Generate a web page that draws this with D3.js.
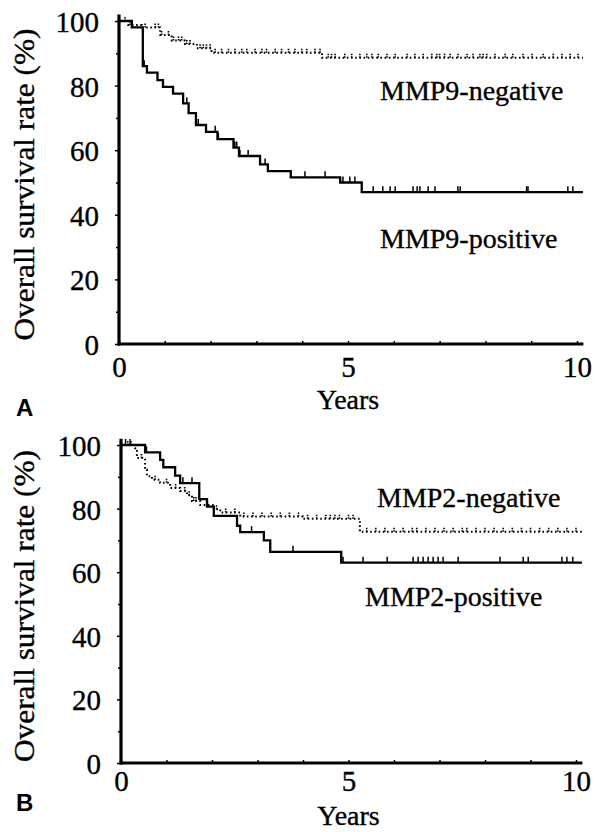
<!DOCTYPE html>
<html>
<head>
<meta charset="utf-8">
<script src="https://cdn.jsdelivr.net/npm/d3@7"></script>
<style>
  body { margin: 0; background: #fff; }
  svg { display: block; }
  text { font-family: "Liberation Serif", "Times New Roman", serif; fill: #000; stroke: #000; stroke-width: 0.35px; }
  text.panel-letter { font-family: "Liberation Sans", Arial, sans-serif; font-weight: bold; stroke-width: 0; }
</style>
</head>
<body>
<svg id="chart" width="595" height="832"></svg>
<script>
// survival curves, [years, survival %]
const mmp9Neg = [[0, 100], [0.2, 98.8], [0.5, 98], [0.9, 95.7], [1.15, 94], [1.44, 92.9], [1.7, 91.6], [2.02, 90.2], [4.43, 88.6], [10.13, 88.6]]
const mmp9Pos = [[0, 100], [0.28, 98], [0.52, 86], [0.61, 84], [0.84, 81.7], [0.96, 79.6], [1.18, 77.5], [1.4, 74.5],
  [1.52, 71.5], [1.68, 67.8], [1.9, 65.7], [2.15, 63.4], [2.5, 60.8], [2.62, 58.2], [3.08, 55.6], [3.25, 53.5],
  [3.75, 51.6], [4.83, 50], [5.3, 47], [10.13, 47]]
const mmp2Neg = [[0, 100], [0.31, 99], [0.35, 95.9], [0.53, 92.2], [0.57, 90.2], [0.68, 89.1], [0.86, 88.1], [1.08, 86.5],
  [1.3, 85.5], [1.45, 84.2], [1.56, 82.4], [1.74, 81.1], [2.04, 79.8], [2.18, 78.8], [2.62, 77.5], [4.0, 76.8],
  [5.25, 72.7], [10.13, 72.7]]
const mmp2Pos = [[0, 100], [0.53, 97.7], [0.86, 95.3], [0.93, 93], [1.19, 90.4], [1.3, 88], [1.72, 83], [1.89, 80.6],
  [2.04, 77.7], [2.55, 74.6], [2.62, 72.6], [3.14, 70], [3.28, 66.4], [4.84, 63], [10.13, 63]]

// censored observations (years)
const mmp9NegCens = [0.13, 0.24, 0.57, 0.79, 0.86, 0.93, 1.08, 1.19, 1.3, 1.37, 1.48, 1.55, 1.77, 1.84, 1.91, 1.99, 2.1,
  2.24, 2.39, 2.53, 2.68, 2.79, 2.97, 3.12, 3.22, 3.41, 3.55, 3.7, 3.84, 3.99, 4.1, 4.28, 4.39, 4.57, 4.64, 4.72,
  4.93, 5.08, 5.26, 5.41, 5.52, 5.66, 5.85, 6.03, 6.29, 6.46, 6.64, 6.83, 6.94, 7.0, 7.11, 7.23, 7.4, 7.6, 7.73,
  7.88, 7.95, 8.03, 8.21, 8.43, 8.6, 8.82, 9.02, 9.26, 9.48, 9.67, 9.85, 10.02]
const mmp9PosCens = [0.55, 1.4, 1.48, 1.73, 2.1, 2.17, 2.53, 2.57, 2.64, 2.82, 3.19, 4.06, 4.5, 4.89, 5.04, 5.15, 5.55,
  5.76, 5.92, 6.03, 6.42, 6.51, 6.57, 6.75, 6.9, 7.4, 7.45, 8.9, 8.93, 9.8, 9.91]
const mmp2NegCens = [0.15, 0.22, 0.45, 0.75, 1.0, 1.2, 1.4, 1.5, 1.6, 1.65, 1.9, 2.1, 2.3, 2.5, 2.7, 2.9, 3.1, 3.3, 3.5,
  3.7, 3.9, 4.1, 4.3, 4.5, 4.6, 4.7, 4.8, 5.0, 5.1, 5.4, 5.6, 5.8, 6.0, 6.2, 6.4, 6.5, 6.7, 6.9, 7.1, 7.3, 7.5, 7.6,
  7.8, 8.0, 8.2, 8.4, 8.6, 8.8, 9.0, 9.2, 9.4, 9.6, 9.8, 10.0]
const mmp2PosCens = [0.1, 0.2, 0.56, 1.36, 1.56, 2.87, 3.78, 4.88, 5.32, 5.85, 6.42, 6.53, 6.64, 6.75, 6.86, 6.97, 7.08,
  7.41, 8.33, 8.84, 8.95, 9.69, 9.8, 9.93]

const yTicks = [0, 20, 40, 60, 80, 100]
const yMinor = [10, 30, 50, 70, 90]
const xTicks = [0, 5, 10]
const xMinor = d3.range(0, 11)

const svg = d3.select('#chart')

const stepAt = (data, t) => data[d3.bisector(d => d[0]).right(data, t) - 1][1]

function drawPanel ({ x0, x10, y0, y100, neg, pos, negCens, posCens, negLabel, posLabel, letter, xPad, yearsY, letterY }) {
  const x = d3.scaleLinear([0, 10], [x0, x10])
  const y = d3.scaleLinear([0, 100], [y0, y100])
  const g = svg.append('g')

  // axes
  const yAxis = g.append('g').attr('transform', `translate(${x0},0)`)
    .call(d3.axisLeft(y).tickValues(yTicks).tickSize(4).tickPadding(16).tickFormat(d3.format('d')))
  yAxis.append('g').call(d3.axisLeft(y).tickValues(yMinor).tickSize(3).tickFormat(''))
  yAxis.selectAll('path.domain').remove()
  yAxis.selectAll('line').attr('stroke-width', 1.5)
  yAxis.selectAll('text').attr('font-size', 29).attr('dy', '0.36em')

  const xAxis = g.append('g').attr('transform', `translate(0,${y0})`)
    .call(d3.axisBottom(x).tickValues(xTicks).tickSize(0).tickPadding(xPad))
  xAxis.append('g').call(d3.axisBottom(x).tickValues(xMinor).tickSize(-3).tickFormat(''))
  xAxis.selectAll('path.domain').remove()
  xAxis.selectAll('line').attr('stroke-width', 1.5)
  xAxis.selectAll('text').attr('font-size', 29)

  g.append('line').attr('x1', x0).attr('x2', x0).attr('y1', y(102)).attr('y2', y0 + 1.5)
    .attr('stroke', '#000').attr('stroke-width', 3.2)
  g.append('line').attr('x1', x0 - 1.5).attr('x2', x(10.14)).attr('y1', y0).attr('y2', y0)
    .attr('stroke', '#000').attr('stroke-width', 3)

  // curves
  const line = d3.line().x(d => x(d[0])).y(d => y(d[1])).curve(d3.curveStepAfter)
  g.append('path').datum(pos).attr('d', line)
    .attr('fill', 'none').attr('stroke', '#000').attr('stroke-width', 2.3)
  g.append('path').datum(neg).attr('d', line)
    .attr('fill', 'none').attr('stroke', '#000').attr('stroke-width', 2).attr('stroke-dasharray', '1.6 2.6')

  g.append('g').selectAll('line').data(posCens).join('line')
    .attr('x1', d => x(d)).attr('x2', d => x(d))
    .attr('y1', d => y(stepAt(pos, d))).attr('y2', d => y(stepAt(pos, d)) - 6)
    .attr('stroke', '#000').attr('stroke-width', 1.5)
  g.append('g').selectAll('line').data(negCens).join('line')
    .attr('x1', d => x(d)).attr('x2', d => x(d))
    .attr('y1', d => y(stepAt(neg, d))).attr('y2', d => y(stepAt(neg, d)) - 5)
    .attr('stroke', '#000').attr('stroke-width', 1.6).attr('stroke-dasharray', '1.5 1')

  // labels
  g.append('text').attr('x', negLabel.x).attr('y', negLabel.y).attr('font-size', 28).text(negLabel.text)
  g.append('text').attr('x', posLabel.x).attr('y', posLabel.y).attr('font-size', 28).text(posLabel.text)

  const mid = (y0 + y(100)) / 2 + 2
  g.append('text')
    .attr('transform', `translate(34,${mid}) rotate(-90)`)
    .attr('text-anchor', 'middle').attr('font-size', 29)
    .attr('textLength', 312).attr('lengthAdjust', 'spacingAndGlyphs')
    .text('Overall survival rate (%)')

  g.append('text').attr('x', x(5)).attr('y', yearsY).attr('text-anchor', 'middle').attr('font-size', 28).text('Years')
  g.append('text').attr('class', 'panel-letter').attr('x', 16).attr('y', letterY)
    .attr('font-size', 24).text(letter)
}

drawPanel({
  x0: 119, x10: 577, y0: 344, y100: 21,
  neg: mmp9Neg, pos: mmp9Pos, negCens: mmp9NegCens, posCens: mmp9PosCens,
  negLabel: { x: 380, y: 100, text: 'MMP9-negative' },
  posLabel: { x: 380, y: 248, text: 'MMP9-positive' },
  letter: 'A', xPad: 12, yearsY: 409, letterY: 416
})

drawPanel({
  x0: 121, x10: 576, y0: 763, y100: 445,
  neg: mmp2Neg, pos: mmp2Pos, negCens: mmp2NegCens, posCens: mmp2PosCens,
  negLabel: { x: 377, y: 507, text: 'MMP2-negative' },
  posLabel: { x: 365, y: 606, text: 'MMP2-positive' },
  letter: 'B', xPad: 7, yearsY: 825, letterY: 811
})
</script>
</body>
</html>
